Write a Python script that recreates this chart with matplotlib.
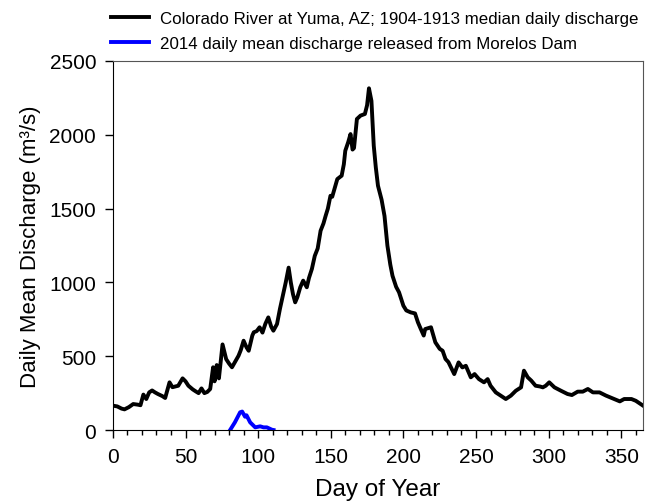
import matplotlib
matplotlib.use('Agg')
import matplotlib.pyplot as plt
from matplotlib.ticker import MultipleLocator

plt.rcParams['font.family'] = ['Liberation Sans', 'DejaVu Sans']

# Colorado River at Yuma, 1904-1913 median daily discharge
yuma_day = [0, 3, 6, 8, 11, 14, 17, 19, 21, 23, 25, 27, 29, 31, 34, 36, 39, 41, 43, 45,
            48, 50, 52, 55, 57, 59, 61, 63, 65, 67, 69, 70, 71.5, 73, 75.5, 78, 80, 82, 84, 86.5,
            88, 90, 92, 93.5, 96, 97, 99, 101, 103, 105, 107, 109, 110.5, 113, 115, 117.5, 119, 121, 122.5, 124,
            125.5, 127, 129, 131, 133.5, 135, 137, 139, 141, 143, 145, 146.5, 148, 149.8, 151, 153, 154.5, 157.5, 159, 160,
            162, 163.6, 165, 166, 168, 170.5, 173.5, 175, 176.3, 178, 179.6, 181, 182.5, 185, 187, 189, 191, 192.5,
            195, 197, 200, 202, 205, 208, 210, 212, 214, 215, 217, 219, 222, 225, 227, 229, 231, 233, 235, 238,
            240.6, 243, 246.4, 249, 252, 255.5, 258, 260, 263.6, 267, 270.5, 274, 277.4, 281, 283, 285.6, 288, 291, 294, 296,
            298, 300.4, 304, 308.5, 313, 316, 320, 323.5, 327, 330.5, 335, 339.5, 345, 349, 352, 357, 360, 365]
yuma_q = [165, 160, 145, 140, 155, 176, 172, 168, 240, 210, 255, 268, 255, 244, 230, 217, 323, 290, 295, 300,
          350, 330, 300, 275, 262, 250, 282, 250, 258, 278, 425, 330, 440, 350, 580, 480, 450, 425, 460, 503,
          540, 605, 560, 537, 640, 662, 670, 696, 660, 720, 763, 700, 673, 718, 820, 933, 1000, 1100, 1000, 920,
          865, 900, 967, 1012, 967, 1030, 1091, 1180, 1230, 1350, 1400, 1452, 1500, 1587, 1580, 1650, 1700, 1723, 1800, 1892,
          1950, 2005, 1900, 1910, 2107, 2130, 2141, 2200, 2315, 2230, 1926, 1780, 1655, 1560, 1450, 1249, 1120, 1045,
          970, 933, 842, 810, 797, 790, 730, 684, 640, 684, 690, 696, 594, 550, 537, 481, 460, 420, 379, 458,
          424, 435, 357, 379, 345, 323, 345, 300, 255, 233, 210, 233, 266, 289, 402, 357, 335, 300, 295, 289,
          300, 323, 289, 266, 244, 237, 260, 260, 278, 255, 255, 233, 210, 194, 210, 210, 198, 165]

# 2014 pulse flow released from Morelos Dam
morelos_day = [80.7, 84, 87.6, 89, 91, 92, 94.5, 98, 101.4, 103.7, 106, 109.5, 110.6]
morelos_q = [0, 52, 120, 125, 90, 100, 52, 18, 25, 18, 18, 2, 0]

fig = plt.figure(figsize=(6.45, 5.02), dpi=100)
ax = fig.add_axes([0.175, 0.1414, 0.822, 0.7351])

l1, = ax.plot(yuma_day, yuma_q, color='black', lw=2.8, solid_joinstyle='round')
l2, = ax.plot(morelos_day, morelos_q, color='#0000ff', lw=2.8, solid_joinstyle='round')

ax.set_xlim(0, 365)
ax.set_ylim(0, 2500)
ax.xaxis.set_major_locator(MultipleLocator(50))
ax.xaxis.set_minor_locator(MultipleLocator(10))
ax.yaxis.set_major_locator(MultipleLocator(500))
ax.tick_params(axis='both', which='major', direction='out', length=6, width=1, labelsize=15, pad=6)
ax.tick_params(axis='x', which='minor', direction='out', length=3.5, width=1)
ax.tick_params(top=False, right=False)
for s in ['top', 'right']:
    ax.spines[s].set_color('#555555')
ax.set_xlabel('Day of Year', fontsize=17.5, labelpad=9)
ax.set_ylabel('Daily Mean Discharge (m³/s)', fontsize=16, labelpad=6)

fig.legend([l1, l2], ['Colorado River at Yuma, AZ; 1904-1913 median daily discharge',
                      '2014 daily mean discharge released from Morelos Dam'],
           loc='upper left', bbox_to_anchor=(0.149, 1.006), frameon=False, fontsize=12.2,
           handlelength=2.2, handletextpad=0.7, labelspacing=0.55)

fig.savefig('out.png', dpi=100)
